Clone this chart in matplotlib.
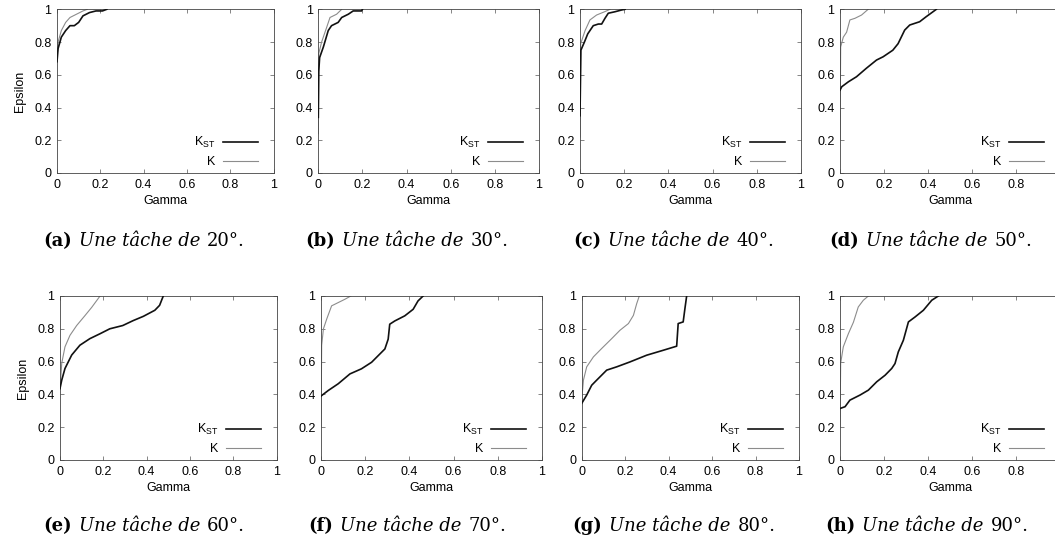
import matplotlib
matplotlib.use("Agg")
import matplotlib.pyplot as plt
from matplotlib.offsetbox import TextArea, HPacker, AnchoredOffsetbox

plt.rcParams['font.family'] = ['Liberation Sans', 'DejaVu Sans']
plt.rcParams['mathtext.default'] = 'regular'

# Valeurs : (gamma, epsilon) pour K_ST et K
kst_a_x = [0, 0.005, 0.02, 0.04, 0.06, 0.08, 0.1, 0.12, 0.15, 0.18, 0.21, 0.23]
kst_a_y = [0.68, 0.76, 0.83, 0.87, 0.9, 0.9, 0.92, 0.96, 0.98, 0.99, 0.99, 1.0]
k_a_x = [0, 0.005, 0.02, 0.04, 0.06, 0.09, 0.12, 0.14]
k_a_y = [0.7, 0.8, 0.87, 0.92, 0.95, 0.97, 0.99, 1.0]

kst_b_x = [0, 0.002, 0.006, 0.023, 0.045, 0.06, 0.09, 0.106, 0.136, 0.158, 0.196, 0.2]
kst_b_y = [0.34, 0.62, 0.705, 0.77, 0.87, 0.9, 0.92, 0.95, 0.97, 0.99, 0.99, 1.0]
k_b_x = [0, 0.002, 0.015, 0.038, 0.053, 0.083, 0.106]
k_b_y = [0.24, 0.73, 0.8, 0.89, 0.95, 0.97, 1.0]

kst_c_x = [0, 0.004, 0.02, 0.035, 0.06, 0.083, 0.098, 0.113, 0.128, 0.158, 0.189, 0.204]
kst_c_y = [0.35, 0.75, 0.8, 0.85, 0.9, 0.91, 0.91, 0.945, 0.976, 0.985, 0.996, 1.0]
k_c_x = [0, 0.003, 0.023, 0.045, 0.075, 0.113, 0.136]
k_c_y = [0.22, 0.79, 0.87, 0.935, 0.965, 0.986, 1.0]

kst_d_x = [0, 0.008, 0.038, 0.075, 0.12, 0.166, 0.196, 0.24, 0.264, 0.294, 0.317, 0.362, 0.392, 0.438]
kst_d_y = [0.506, 0.527, 0.557, 0.588, 0.64, 0.69, 0.71, 0.75, 0.79, 0.873, 0.904, 0.924, 0.955, 1.0]
k_d_x = [0, 0.003, 0.015, 0.03, 0.045, 0.068, 0.098, 0.128]
k_d_y = [0.2, 0.77, 0.83, 0.86, 0.935, 0.945, 0.965, 1.0]

kst_e_x = [0, 0.008, 0.023, 0.054, 0.092, 0.138, 0.185, 0.23, 0.29, 0.338, 0.385, 0.438, 0.46, 0.477]
kst_e_y = [0.436, 0.487, 0.558, 0.64, 0.7, 0.74, 0.77, 0.8, 0.82, 0.85, 0.876, 0.913, 0.943, 1.0]
k_e_x = [0, 0.008, 0.023, 0.046, 0.077, 0.115, 0.146, 0.185]
k_e_y = [0.43, 0.59, 0.69, 0.76, 0.82, 0.88, 0.93, 1.0]

kst_f_x = [0, 0.033, 0.078, 0.131, 0.183, 0.229, 0.266, 0.289, 0.304, 0.311, 0.334, 0.379, 0.417, 0.439, 0.462]
kst_f_y = [0.39, 0.424, 0.465, 0.525, 0.556, 0.596, 0.646, 0.677, 0.737, 0.828, 0.848, 0.879, 0.919, 0.97, 1.0]
k_f_x = [0, 0.003, 0.011, 0.026, 0.048, 0.078, 0.108, 0.135]
k_f_y = [0.2, 0.7, 0.8, 0.86, 0.94, 0.96, 0.98, 1.0]

kst_g_x = [0, 0.023, 0.046, 0.069, 0.115, 0.161, 0.222, 0.299, 0.375, 0.437, 0.444, 0.467, 0.475, 0.483]
kst_g_y = [0.345, 0.396, 0.456, 0.487, 0.548, 0.568, 0.598, 0.639, 0.669, 0.694, 0.832, 0.842, 0.923, 1.0]
k_g_x = [0, 0.008, 0.023, 0.054, 0.092, 0.138, 0.176, 0.215, 0.238, 0.253, 0.265]
k_g_y = [0.365, 0.487, 0.568, 0.629, 0.68, 0.74, 0.791, 0.832, 0.882, 0.953, 1.0]

kst_h_x = [0, 0.023, 0.045, 0.091, 0.129, 0.167, 0.205, 0.235, 0.25, 0.265, 0.288, 0.311, 0.341, 0.379, 0.417, 0.447]
kst_h_y = [0.314, 0.325, 0.365, 0.396, 0.426, 0.477, 0.517, 0.558, 0.588, 0.659, 0.73, 0.842, 0.872, 0.913, 0.974, 1.0]
k_h_x = [0, 0.003, 0.015, 0.038, 0.061, 0.083, 0.106, 0.129]
k_h_y = [0.2, 0.59, 0.69, 0.77, 0.84, 0.933, 0.974, 1.0]

letters = ['a', 'b', 'c', 'd', 'e', 'f', 'g', 'h']
angles = ['20', '30', '40', '50', '60', '70', '80', '90']
ticks = [0, 0.2, 0.4, 0.6, 0.8, 1]
tick_labels = ['0', '0.2', '0.4', '0.6', '0.8', '1']

series = [
    (kst_a_x, kst_a_y, k_a_x, k_a_y), (kst_b_x, kst_b_y, k_b_x, k_b_y),
    (kst_c_x, kst_c_y, k_c_x, k_c_y), (kst_d_x, kst_d_y, k_d_x, k_d_y),
    (kst_e_x, kst_e_y, k_e_x, k_e_y), (kst_f_x, kst_f_y, k_f_x, k_f_y),
    (kst_g_x, kst_g_y, k_g_x, k_g_y), (kst_h_x, kst_h_y, k_h_x, k_h_y),
]

W, H = 1055, 559
# boites des axes en pixels : gauche, droite, haut, bas
boxes = [
    (57, 273.5, 9.3, 173), (318.3, 539, 9.3, 173), (580, 801, 9.3, 173), (840, 1060, 9.3, 173),
    (60, 276.5, 296, 460), (321, 542, 296, 460), (581.7, 799, 296, 460), (840, 1060, 296, 460),
]
cap_x = [144, 407, 674, 931, 144, 407, 674, 927]
cap_y = [241, 241, 241, 241, 526, 526, 526, 526]
serif = 'DejaVu Serif'
cap_size = 13

fig = plt.figure(figsize=(W / 100, H / 100), dpi=100)

for i, (sx, sy, kx, ky) in enumerate(series):
    l, r, t, b = boxes[i]
    ax = fig.add_axes([l / W, 1 - b / H, (r - l) / W, (b - t) / H])
    ax.plot(sx, sy, color='#111111', lw=1.2, label='K$_{ST}$', zorder=3)
    ax.plot(kx, ky, color='#8c8c8c', lw=0.8, label='K', zorder=2)
    ax.set_xlim(0, 1)
    ax.set_ylim(0, 1)
    ax.set_xticks(ticks)
    if i % 4 == 3:
        # le dernier libelle tombe hors de l'image
        ax.set_xticklabels(tick_labels[:-1] + [''])
    else:
        ax.set_xticklabels(tick_labels)
    ax.set_yticks(ticks)
    ax.set_yticklabels(tick_labels)
    ax.tick_params(direction='in', top=True, right=True, length=3, width=0.5,
                   color='#555555', labelsize=9, pad=4)
    for sp in ax.spines.values():
        sp.set_linewidth(0.6)
        sp.set_color('#444444')
    ax.set_xlabel('Gamma', fontsize=9, labelpad=3)
    if i % 4 == 0:
        ax.set_ylabel('Epsilon', fontsize=9, labelpad=6)
    ax.legend(loc='lower right', bbox_to_anchor=(0.95, 0.0), frameon=False,
              markerfirst=False, fontsize=9, handlelength=2.8, handletextpad=0.6,
              labelspacing=0.45, borderaxespad=0.0)

    # legende de la sous-figure
    parts = [
        TextArea('(' + letters[i] + ')', textprops=dict(family=serif, weight='bold', size=cap_size)),
        TextArea('Une tâche de', textprops=dict(family=serif, style='italic', size=cap_size)),
        TextArea(angles[i] + '°.', textprops=dict(family=serif, size=cap_size)),
    ]
    box = HPacker(children=parts, align='baseline', pad=0, sep=5)
    anch = AnchoredOffsetbox(loc='center', child=box, pad=0, borderpad=0, frameon=False,
                             bbox_to_anchor=(cap_x[i] / W, 1 - cap_y[i] / H),
                             bbox_transform=fig.transFigure)
    fig.add_artist(anch)

fig.savefig('out.png', dpi=100)
